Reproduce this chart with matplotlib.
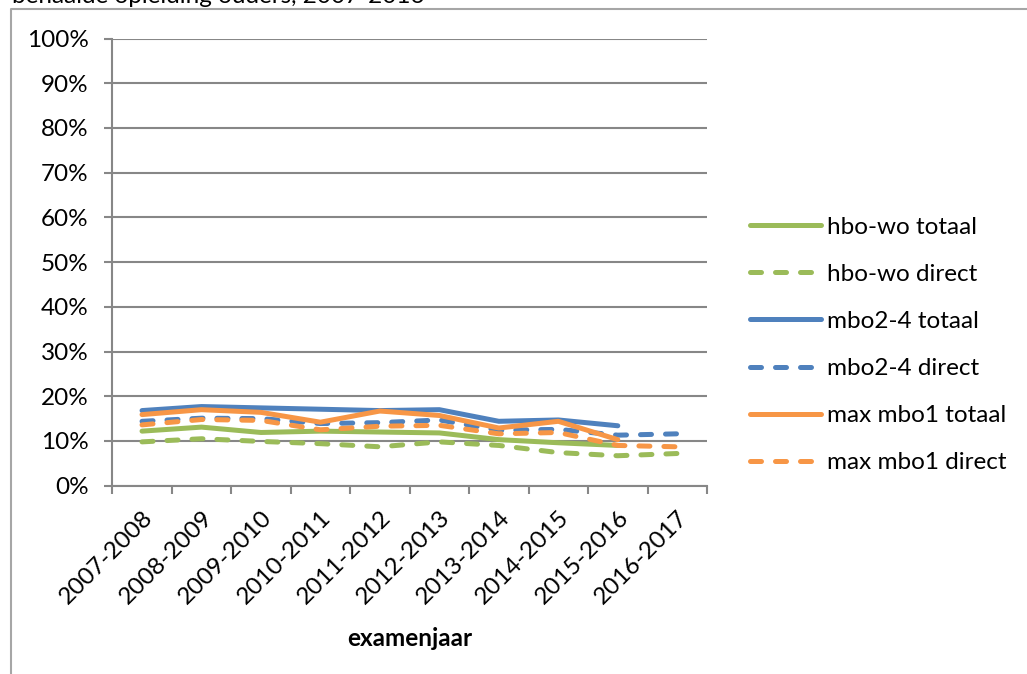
import matplotlib.pyplot as plt
from matplotlib.lines import Line2D
import numpy as np

plt.rcParams['font.family'] = ['Lato', 'DejaVu Sans']

jaren = ['2007-2008', '2008-2009', '2009-2010', '2010-2011', '2011-2012',
         '2012-2013', '2013-2014', '2014-2015', '2015-2016', '2016-2017']

# percentages (None = no value)
hbo_wo_totaal = [12.2, 13.1, 11.9, 12.2, 12.0, 11.8, 10.3, 9.6, 9.0, None]
hbo_wo_direct = [9.8, 10.5, 9.9, 9.4, 8.7, 9.8, 9.0, 7.4, 6.7, 7.2]
mbo24_totaal = [16.8, 17.7, 17.4, 17.1, 16.8, 17.0, 14.4, 14.7, 13.4, None]
mbo24_direct = [14.4, 15.1, 15.0, 13.9, 14.1, 14.7, 12.4, 12.6, 11.3, 11.6]
mbo1_totaal = [15.9, 17.0, 16.4, 14.2, 16.7, 15.7, 12.9, 14.4, 10.3, None]
mbo1_direct = [13.6, 14.8, 14.6, 12.5, 13.3, 13.5, 11.6, 11.9, 9.0, 8.7]

reeksen = [
    ('hbo-wo totaal', hbo_wo_totaal, '#9BBB59', '-'),
    ('hbo-wo direct', hbo_wo_direct, '#9BBB59', '--'),
    ('mbo2-4 totaal', mbo24_totaal, '#4F81BD', '-'),
    ('mbo2-4 direct', mbo24_direct, '#4F81BD', '--'),
    ('max mbo1 totaal', mbo1_totaal, '#F79646', '-'),
    ('max mbo1 direct', mbo1_direct, '#F79646', '--'),
]

W, H = 1027, 674
fs = 17.5
fig = plt.figure(figsize=(W / 100, H / 100), dpi=100)
ax = fig.add_axes([112.3 / W, 1 - 485.7 / H, (707 - 112.3) / W, (485.7 - 38.5) / H])

x = np.arange(len(jaren))
grijs = '#878787'
for naam, vals, kleur, stijl in reeksen:
    y = np.array([np.nan if v is None else v for v in vals], dtype=float) / 100
    ln, = ax.plot(x, y, color=kleur, lw=3.6, solid_capstyle='round', label=naam)
    if stijl == '--':
        ln.set_dashes((2.2, 2.8))
        ln.set_dash_capstyle('round')

ax.set_xlim(-0.5, len(jaren) - 0.5)
ax.set_ylim(0, 1)
ax.set_yticks(np.arange(0, 1.01, 0.1))
ax.set_yticklabels([f'{int(round(v * 100))}%' for v in np.arange(0, 1.01, 0.1)])
ax.yaxis.grid(True, color=grijs, lw=1.5)
ax.set_axisbelow(True)

ax.set_xticks(x)
ax.set_xticklabels(jaren, rotation=45, ha='right', rotation_mode='anchor')
ax.set_xticks(np.arange(-0.5, len(jaren)), minor=True)
ax.tick_params(axis='x', which='major', length=0, pad=15, labelsize=fs)
ax.tick_params(axis='x', which='minor', length=6, width=1.5, color=grijs, direction='out')
ax.tick_params(axis='y', length=6, width=1.5, color=grijs, pad=11, labelsize=fs)

for s in ['top', 'right']:
    ax.spines[s].set_visible(False)
for s in ['left', 'bottom']:
    ax.spines[s].set_color(grijs)
    ax.spines[s].set_linewidth(1.5)

ax.set_xlabel('examenjaar', fontsize=fs, fontweight='bold', labelpad=14)

ax.legend(loc='center left', bbox_to_anchor=(750 / W, 1 - 345 / H),
          bbox_transform=fig.transFigure, frameon=False, fontsize=fs,
          handlelength=2.92, handletextpad=0.25, labelspacing=1.07,
          borderpad=0, borderaxespad=0)

# chart frame (only left and top edge visible) and clipped title
fig.add_artist(Line2D([10.5 / W, 10.5 / W, 1], [0, 1 - 9 / H, 1 - 9 / H],
                      transform=fig.transFigure, color='#A6A6A6', lw=1.5))
fig.text(12 / W, 1 - 3 / H, 'behaalde opleiding ouders, 2007-2016',
         fontsize=fs, va='baseline', ha='left')

fig.savefig('out.png', dpi=100)
